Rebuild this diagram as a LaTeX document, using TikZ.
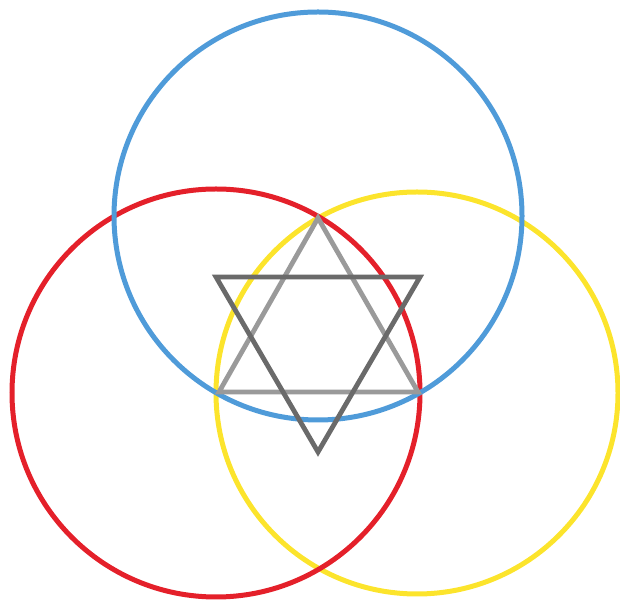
\documentclass[tikz,border=0pt]{standalone}
\usepackage{xcolor}
\usepackage{tikz}
\usetikzlibrary{calc}
\definecolor{ringblue}{HTML}{4F9BD9}
\definecolor{ringred}{HTML}{E4202A}
\definecolor{ringyellow}{HTML}{FCE42C}
\definecolor{starlight}{HTML}{9A9A9A}
\definecolor{stardark}{HTML}{6A6A6A}
\tikzset{
  ringline/.style={line width=5pt},
  starline/.style={line width=4.8pt, line join=miter}
}

\begin{document}
\begin{tikzpicture}[x=1pt, y=1pt]
        \useasboundingbox (0,0) rectangle (620,601);

        % Ring centres
        \coordinate (cblue)   at (318,385);
        \coordinate (cred)    at (216,208);
        \coordinate (cyellow) at (417,208);

        % Rings
        \draw[ringline, ringyellow] (cyellow) circle[radius=201];
        \draw[ringline, ringred]    (cred)    circle[radius=204];
        \draw[ringline, ringblue]   (cblue)   circle[radius=204];

        % Star corners
        \coordinate (up1) at (318,383);
        \coordinate (up2) at (219,209);
        \coordinate (up3) at (418,209);
        \coordinate (dn1) at (216,324);
        \coordinate (dn2) at (420,324);
        \coordinate (dn3) at (318,149);

        % Star
        \draw[starline, starlight] (up1) -- (up2) -- (up3) -- cycle;
        \draw[starline, stardark]  (dn1) -- (dn2) -- (dn3) -- cycle;
    \end{tikzpicture}
\end{document}
